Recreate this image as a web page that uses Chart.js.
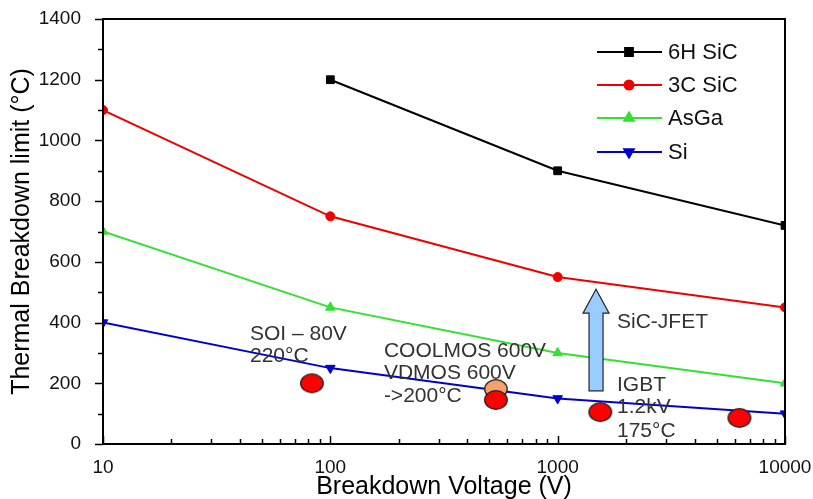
<!DOCTYPE html>
<html><head><meta charset="utf-8">
<script src="https://cdn.jsdelivr.net/npm/chart.js@4.4.0/dist/chart.umd.min.js"></script>
<style>html,body{margin:0;padding:0;background:#fff;}#wrap{width:813px;height:499px;}</style>
</head><body><div id="wrap"><canvas id="c" width="813" height="499"></canvas></div>
<script>
// ---- data ----
const voltages = [10, 100, 1000, 10000];
const sic6H = [null, 1200, 900, 720];
const sic3C = [1100, 750, 550, 450];
const asga = [700, 450, 300, 200];
const si = [400, 250, 150, 100];
const deviceV = [83, 535, 1540, 6300];
const deviceT = [200, 145, 105, 86];
const coolmosV = [535];
const coolmosT = [181];
const xTickLabels = [10, 100, 1000, 10000];
const yTickLabels = [0, 200, 400, 600, 800, 1000, 1200, 1400];
const seriesNames = ['6H SiC', '3C SiC', 'AsGa', 'Si'];
const annoText = ['SOI \u2013 80V', '220°C', 'COOLMOS 600V', 'VDMOS 600V', '->200°C', 'SiC-JFET', 'IGBT', '1.2kV', '175°C'];
const annoX = [44.3, 44.3, 172, 172, 172, 1824, 1824, 1824, 1824];
const annoY = [362, 290, 306, 234, 158, 402, 194, 122, 43];
const arrowX = 1475, arrowFrom = 175, arrowTo = 510;

const FONT = "'Liberation Sans', Arial, sans-serif";
function pts(arr){ return voltages.map((v,i)=>({x:v,y:arr[i]})).filter(p=>p.y!==null); }
function ellipse(fill){
  const c=document.createElement('canvas'); c.width=26; c.height=22;
  const g=c.getContext('2d'); g.beginPath(); g.ellipse(13,11,11.3,9.3,0,0,2*Math.PI);
  g.fillStyle=fill; g.fill(); g.lineWidth=1.3; g.strokeStyle='#222'; g.stroke(); return c;
}
const lineStyle = (color, style, radius, rot) => ({
  borderColor: color, backgroundColor: color, borderWidth: 2, pointStyle: style,
  pointRadius: radius, pointRotation: rot||0, pointBorderWidth: 1, pointBorderColor: color,
  pointBackgroundColor: color, tension: 0, clip: 0, showLine: true, fill: false
});

const datasets = [
  {label:'dev', data: deviceV.map((v,i)=>({x:v,y:deviceT[i]})), showLine:false, pointStyle: ellipse('#ff0000'), pointRadius: 10, clip: false},
  {label:'cool', data: coolmosV.map((v,i)=>({x:v,y:coolmosT[i]})), showLine:false, pointStyle: ellipse('#f7a06c'), pointRadius: 10, clip: false},
  Object.assign({label: seriesNames[0], data: pts(sic6H)}, lineStyle('#000000','rect',5.5)),
  Object.assign({label: seriesNames[1], data: pts(sic3C)}, lineStyle('#ee0000','circle',4.5)),
  Object.assign({label: seriesNames[2], data: pts(asga)}, lineStyle('#33e033','triangle',5.5)),
  Object.assign({label: seriesNames[3], data: pts(si)}, lineStyle('#0000cc','triangle',5.5,180)),
];

const deco = {
  id: 'deco',
  afterDatasetsDraw(chart){
    const {ctx, chartArea:a, scales:{x, y}} = chart;
    ctx.save();
    // arrow
    const ax = x.getPixelForValue(arrowX), yb = y.getPixelForValue(arrowFrom), yt = y.getPixelForValue(arrowTo);
    const headH = 24, sw = 7, hw = 13;
    ctx.beginPath();
    ctx.moveTo(ax - sw, yb); ctx.lineTo(ax - sw, yt + headH); ctx.lineTo(ax - hw, yt + headH);
    ctx.lineTo(ax, yt); ctx.lineTo(ax + hw, yt + headH); ctx.lineTo(ax + sw, yt + headH);
    ctx.lineTo(ax + sw, yb); ctx.closePath();
    ctx.fillStyle = '#99ccff'; ctx.fill(); ctx.lineWidth = 1.2; ctx.strokeStyle = '#223'; ctx.stroke();
    // annotations
    ctx.font = '21px ' + FONT; ctx.fillStyle = '#333'; ctx.textAlign = 'left'; ctx.textBaseline = 'middle';
    annoText.forEach((t,i)=>{ ctx.fillText(t, x.getPixelForValue(annoX[i]), y.getPixelForValue(annoY[i])); });
    ctx.restore();
  },
  afterDraw(chart){
    const {ctx, chartArea:a, scales:{x, y}} = chart;
    ctx.save();
    ctx.strokeStyle = '#000'; ctx.lineWidth = 2;
    ctx.strokeRect(a.left, a.top, a.right - a.left, a.bottom - a.top);
    ctx.lineWidth = 1.5;
    ctx.beginPath();
    for (let v = 0; v <= 1400; v += 100) {
      const py = Math.round(y.getPixelForValue(v)) + 0.5;
      const len = (v % 200 === 0) ? 8 : 5;
      ctx.moveTo(a.left, py); ctx.lineTo(a.left - len, py);
    }
    for (let d = 1; d <= 4; d++) {
      for (let m = 1; m <= 9; m++) {
        const v = m * Math.pow(10, d);
        if (v > 10000) break;
        const px = Math.round(x.getPixelForValue(v)) + 0.5;
        const len = m === 1 ? 8 : 5;
        ctx.moveTo(px, a.bottom); ctx.lineTo(px, a.bottom - len);
      }
    }
    ctx.stroke();
    // legend
    const rows = [52, 85, 118, 152];
    chart.data.datasets.slice(2).forEach((ds, i) => {
      const yy = rows[i];
      ctx.strokeStyle = ds.borderColor; ctx.lineWidth = 2;
      ctx.beginPath(); ctx.moveTo(597, yy); ctx.lineTo(662, yy); ctx.stroke();
      ctx.fillStyle = ds.borderColor;
      Chart.helpers.drawPoint(ctx, {pointStyle: ds.pointStyle, rotation: ds.pointRotation, radius: ds.pointRadius, borderWidth: 1}, 629, yy);
      ctx.fillStyle = '#111'; ctx.font = '22px ' + FONT; ctx.textAlign = 'left'; ctx.textBaseline = 'middle';
      ctx.fillText(ds.label, 668, yy + 1);
    });
    ctx.restore();
  }
};

new Chart(document.getElementById('c'), {
  type: 'scatter',
  data: { datasets },
  plugins: [deco],
  options: {
    responsive: false, animation: false, devicePixelRatio: 1,
    layout: { padding: { top: 19, right: 28, left: 0, bottom: 0 } },
    plugins: { legend: { display: false }, tooltip: { enabled: false } },
    scales: {
      x: {
        type: 'logarithmic', min: 10, max: 10000,
        afterFit(s){ s.height = 55; s.paddingLeft = 0; s.paddingRight = 0; },
        grid: { display: false }, border: { display: false },
        ticks: { autoSkip: false, maxRotation: 0, padding: 4, color: '#111', font: { size: 19, family: FONT },
          callback: (v) => xTickLabels.includes(v) ? String(v) : '' },
        title: { display: true, text: 'Breakdown Voltage (V)', color: '#000', font: { size: 25, family: FONT, lineHeight: 1 }, padding: { top: 0, bottom: -1 } }
      },
      y: {
        type: 'linear', min: 0, max: 1400,
        afterFit(s){ s.width = 103; s.paddingTop = 0; s.paddingBottom = 0; },
        afterBuildTicks(s){ s.ticks = yTickLabels.map(v => ({value: v})); },
        grid: { display: false }, border: { display: false },
        ticks: { padding: 14, color: '#111', font: { size: 19, family: FONT }, callback: (v) => String(v) },
        title: { display: true, text: 'Thermal Breakdown limit (°C)', color: '#000', font: { size: 25, family: FONT, lineHeight: 1 }, padding: { top: 10, bottom: 0 } }
      }
    }
  }
});
</script></body></html>
